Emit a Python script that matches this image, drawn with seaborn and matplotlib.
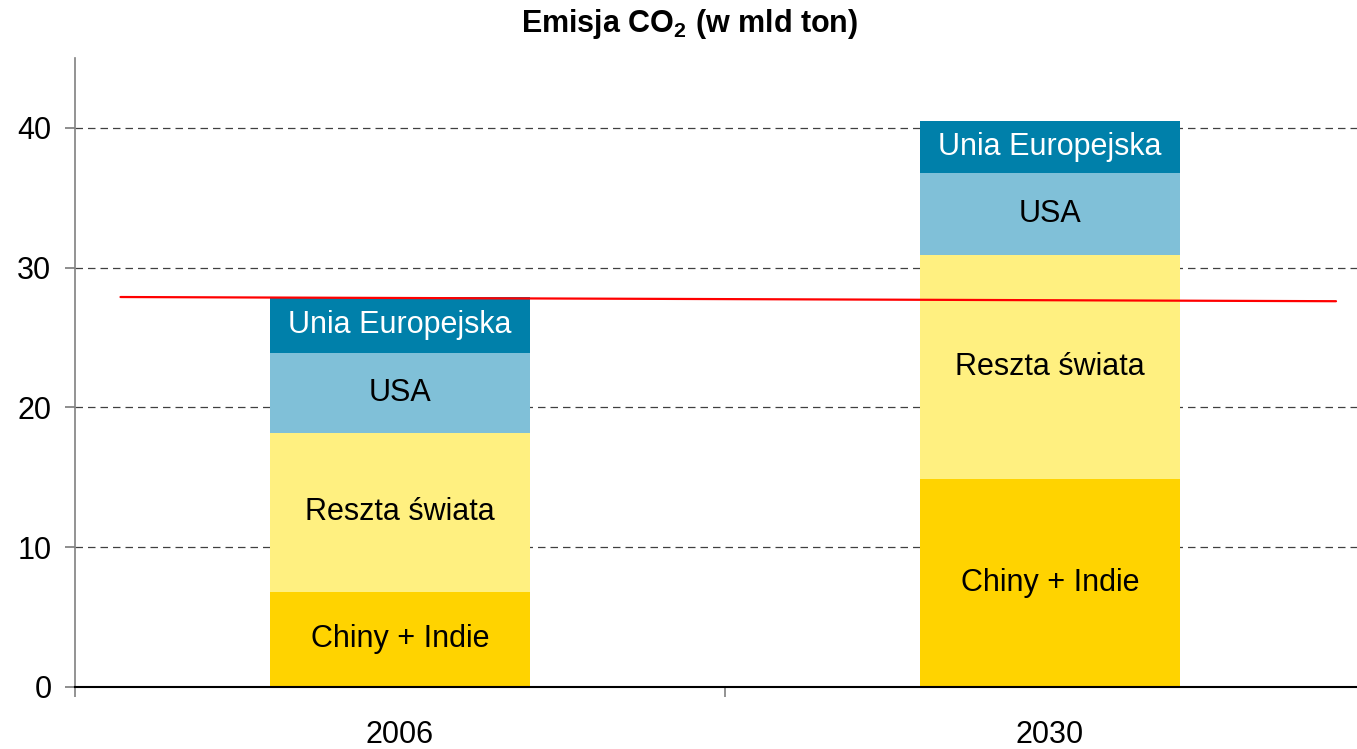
import numpy as np
import pandas as pd
import matplotlib
matplotlib.use("Agg")
import matplotlib.pyplot as plt
import seaborn as sns

# data
years = ["2006", "2030"]
segments = ["Chiny + Indie", "Reszta świata", "USA", "Unia Europejska"]
chiny_indie = [6.8, 14.9]
reszta_swiata = [11.4, 16.0]
usa = [5.7, 5.9]
unia_europejska = [4.0, 3.7]
colors = ["#FFD300", "#FFF080", "#80C0D8", "#0080AA"]
text_colors = ["black", "black", "black", "white"]
line_x = [-0.43, 1.44]
line_y = [27.9, 27.6]

sns.set_theme(style="white")
plt.rcParams["font.family"] = ["Liberation Sans", "DejaVu Sans"]
plt.rcParams["mathtext.fontset"] = "custom"
plt.rcParams["mathtext.rm"] = "Liberation Sans"
plt.rcParams["mathtext.bf"] = "Liberation Sans:bold"
plt.rcParams["text.color"] = "black"
plt.rcParams["xtick.color"] = "black"
plt.rcParams["ytick.color"] = "black"

values = np.array([chiny_indie, reszta_swiata, usa, unia_europejska])
cum = values.cumsum(axis=0)

fig = plt.figure(figsize=(13.57, 7.49), dpi=100)
ax = fig.add_axes([75 / 1357, 62 / 749, 1300 / 1357, 629 / 749])

# stacked bars: draw totals from top segment downward
for i in range(len(segments) - 1, -1, -1):
    df = pd.DataFrame({"rok": years, "val": cum[i]})
    sns.barplot(data=df, x="rok", y="val", color=colors[i], width=0.4,
                saturation=1, linewidth=0, edgecolor="none", ax=ax, zorder=2)

for i, seg in enumerate(segments):
    for j in range(len(years)):
        mid = cum[i][j] - values[i][j] / 2
        ax.text(j, mid, seg, ha="center", va="center", fontsize=22,
                color=text_colors[i], zorder=4)

ax.plot(line_x, line_y, color="red", lw=1.6, zorder=3)

ax.set_xlim(-0.5, 1.5)
ax.set_ylim(0, 45)
ax.set_yticks([0, 10, 20, 30, 40])
ax.set_xlabel("")
ax.set_ylabel("")
ax.yaxis.grid(True, linestyle=(0, (6, 4)), color="#404040", lw=0.9)
ax.set_axisbelow(True)
for g in ax.get_ygridlines():
    g.set_zorder(0)

ax.spines["top"].set_visible(False)
ax.spines["right"].set_visible(False)
ax.spines["left"].set_color("#808080")
ax.spines["left"].set_linewidth(1.2)
ax.spines["bottom"].set_color("black")
ax.spines["bottom"].set_linewidth(1.5)

ax.tick_params(axis="y", direction="out", length=7, color="#808080",
               labelsize=22, labelcolor="black", pad=10, left=True)
ax.tick_params(axis="x", which="major", length=0, labelsize=22,
               labelcolor="black", pad=24)
ax.set_xticks([-0.5, 0.5, 1.5], minor=True)
ax.tick_params(axis="x", which="minor", length=7, color="#808080", width=1.2,
               bottom=True)

fig.text(690 / 1357, 1 - 24 / 749, r"Emisja CO$_\mathbf{2}$ (w mld ton)",
         ha="center", va="center", fontsize=22, fontweight="bold", color="black")

fig.savefig("out.png", dpi=100)
